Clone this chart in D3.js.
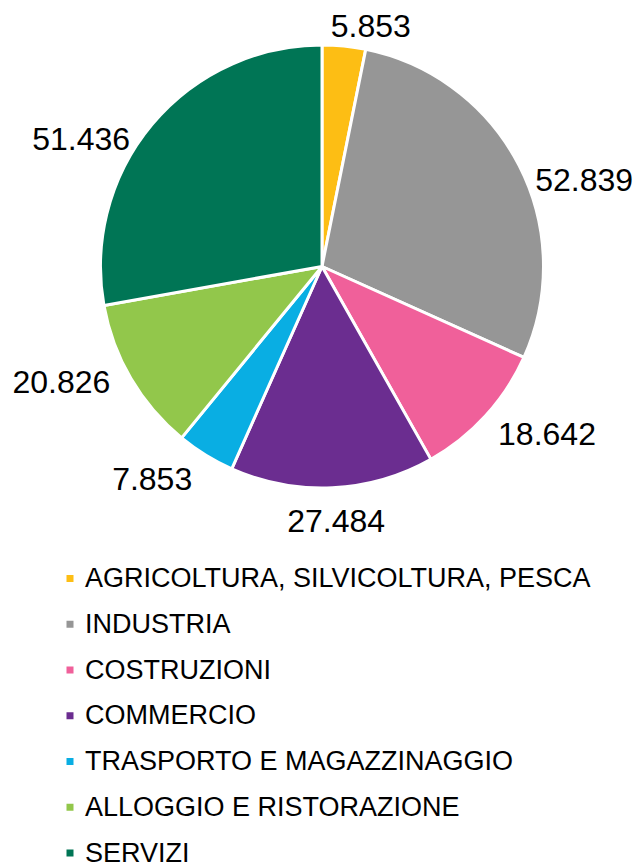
<!DOCTYPE html>
<html>
<head>
<meta http-equiv="Content-Type" content="text/html; charset=UTF-8">
<style>
body { margin: 0; background: #fff; }
text { font-family: "Liberation Sans", Arial, sans-serif; fill: #000; }
.label { font-size: 32px; }
.legend text { font-size: 27px; }
</style>
</head>
<body>
<svg width="634" height="862"></svg>
<script src="https://cdn.jsdelivr.net/npm/d3@7/dist/d3.min.js"></script>
<script>

var categories = [
    "AGRICOLTURA, SILVICOLTURA, PESCA",
    "INDUSTRIA",
    "COSTRUZIONI",
    "COMMERCIO",
    "TRASPORTO E MAGAZZINAGGIO",
    "ALLOGGIO E RISTORAZIONE",
    "SERVIZI"
];
var values = [5853, 52839, 18642, 27484, 7853, 20826, 51436];
var valueLabels = ["5.853", "52.839", "18.642", "27.484", "7.853", "20.826", "51.436"];

var colors = ["#FDBE14", "#969696", "#F0609A", "#6B2D90", "#09AEE3", "#92C74B", "#007555"];
// small nudges so the labels sit where the original placed them
var labelNudge = [[22, 0], [14, 23], [19, 4], [1, 12], [-28, 6], [-20, -7], [-27, 27]];

var svg = d3.select("svg"),
    cx = 322, cy = 266.5, radius = 221.5;

var data = values.map(function(v, i) { return {name: categories[i], value: v, label: valueLabels[i], i: i}; });

var pie = d3.pie()
    .sort(null)
    .value(function(d) { return d.value; });

var arc = d3.arc()
    .innerRadius(0)
    .outerRadius(radius);

var g = svg.append("g").attr("transform", "translate(" + cx + "," + cy + ")");

var arcs = pie(data);

g.selectAll("path")
    .data(arcs)
  .enter().append("path")
    .attr("d", arc)
    .attr("fill", function(d) { return colors[d.data.i]; })
    .attr("stroke", "#fff")
    .attr("stroke-width", 3)
    .attr("stroke-linejoin", "round");

var labelR = 230;
g.selectAll("text.label")
    .data(arcs)
  .enter().append("text")
    .attr("class", "label")
    .attr("text-anchor", "middle")
    .attr("dy", "0.36em")
    .text(function(d) { return d.data.label; })
    .each(function(d) {
      var a = (d.startAngle + d.endAngle) / 2,
          s = Math.sin(a), c = Math.cos(a),
          w = this.getComputedTextLength(),
          h = 24,
          n = labelNudge[d.data.i];
      d3.select(this)
        .attr("x", labelR * s + w / 2 * s + n[0])
        .attr("y", -labelR * c - h / 2 * c + n[1]);
    });

var legend = svg.append("g")
    .attr("class", "legend")
    .attr("transform", "translate(0,577.5)");

var rowStep = 45.75;
var item = legend.selectAll("g")
    .data(data)
  .enter().append("g")
    .attr("transform", function(d, i) { return "translate(0," + (i * rowStep) + ")"; });

item.append("rect")
    .attr("x", 66.5)
    .attr("y", -2.5)
    .attr("width", 7)
    .attr("height", 7)
    .attr("fill", function(d) { return colors[d.i]; });

item.append("text")
    .attr("x", 85)
    .attr("y", 9.5)
    .text(function(d) { return d.name; });

</script>
</body></html>
